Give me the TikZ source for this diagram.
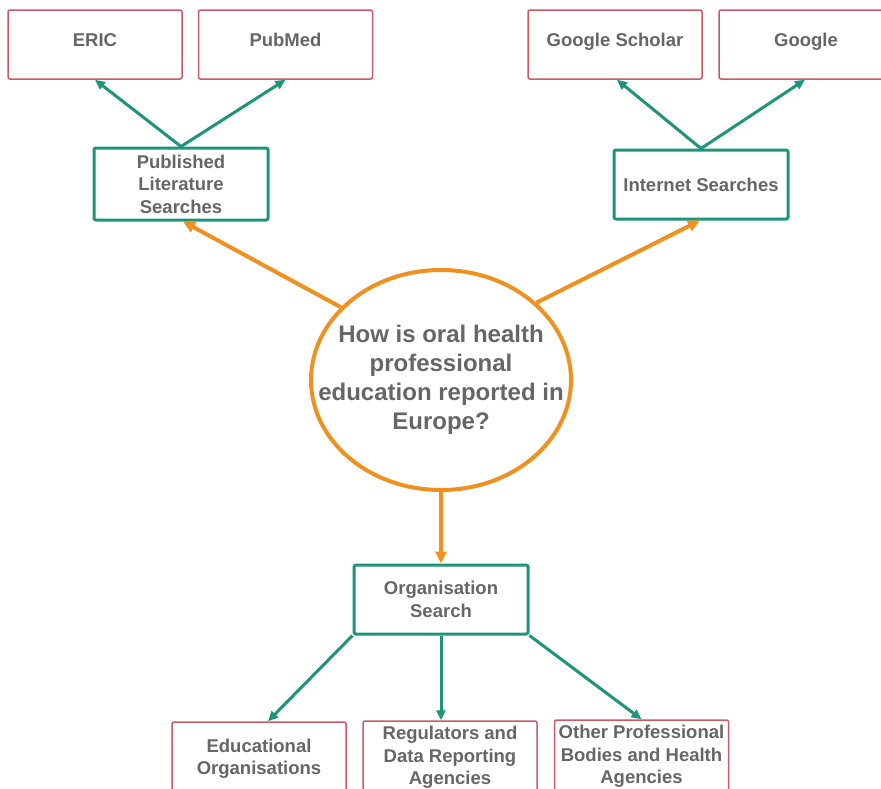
\documentclass[tikz,border=0pt]{standalone}
\usepackage{fontspec}
\setmainfont{Liberation Sans}
\usetikzlibrary{arrows.meta,shapes.geometric,calc}
\definecolor{boxred}{HTML}{CC5A64}
\definecolor{tealc}{HTML}{1E9478}
\definecolor{orangec}{HTML}{F0901E}
\definecolor{txtgray}{HTML}{666666}
\tikzset{
  lbl/.style={text=txtgray, font=\fontsize{18.5}{22.5}\selectfont\bfseries, align=center, inner sep=0pt},
  redbox/.style={lbl, draw=boxred, line width=1.5pt, rounded corners=2pt, minimum width=174pt, minimum height=69pt},
  tealbox/.style={lbl, draw=tealc, line width=3pt, rounded corners=2pt, minimum width=174pt, minimum height=69pt},
  tarrow/.style={draw=tealc, line width=3pt, -{Triangle[length=10pt,width=9pt]}},
  oarrow/.style={draw=orangec, line width=4pt, -{Triangle[length=12pt,width=11pt]}},
}
\begin{document}
\begin{tikzpicture}[x=1pt,y=-1pt]
\useasboundingbox (0,0) rectangle (881,788);
\fill[white] (0,0) rectangle (881,788);
% top boxes
\node[redbox, text height=13.5pt, text depth=9pt] (eric) at (95,44.5) {ERIC};
\node[redbox, text height=13.5pt, text depth=9pt] (pubmed) at (285.5,44.5) {PubMed};
\node[redbox, text height=13.5pt, text depth=9pt] (gs) at (615,44.5) {Google Scholar};
\node[redbox, text height=13.5pt, text depth=9pt] (google) at (806,44.5) {Google};
% second level
\node[tealbox, minimum height=72pt] (pub) at (181,184) {Published\\Literature\\Searches};
\node[tealbox] (inet) at (701,184.5) {Internet Searches};
% central question
\node[draw=orangec, line width=4pt, ellipse, minimum width=260pt, minimum height=220pt, inner sep=0pt] (q) at (441,380) {};
\node[lbl, font=\fontsize{24}{29}\selectfont\bfseries] (qt) at (q.center) {How is oral health\\professional\\education reported in\\Europe?};
% organisation search
\node[tealbox] (org) at (441,599.5) {Organisation\\Search};
% bottom boxes
\node[redbox, minimum height=73pt] (edu) at (259,758.5) {Educational\\Organisations};
\node[redbox, minimum height=73pt] (reg) at (450,757.5) {Regulators and\\Data Reporting\\Agencies};
\node[redbox, minimum height=73pt] (oth) at (641.5,756.5) {Other Professional\\Bodies and Health\\Agencies};
% teal connectors
\draw[tarrow] (pub.north) -- (eric.south);
\draw[tarrow] (pub.north) -- (pubmed.south);
\draw[tarrow] (inet.north) -- ($(gs.south)+(2,0)$);
\draw[tarrow] (inet.north) -- ($(google.south)+(-1,0)$);
\draw[tarrow] (org.south west) -- ($(edu.north)+(9,0)$);
\draw[tarrow] (org.south) -- (org.south |- reg.north);
\draw[tarrow] (org.south east) -- (oth.north);
% orange connectors
\draw[oarrow] (q.144.9) -- ($(pub.south)+(2,0)$);
\draw[oarrow] (q.39.1) -- ($(inet.south)+(-1,0)$);
\draw[oarrow] (q.south) -- (org.north);
\end{tikzpicture}
\end{document}
